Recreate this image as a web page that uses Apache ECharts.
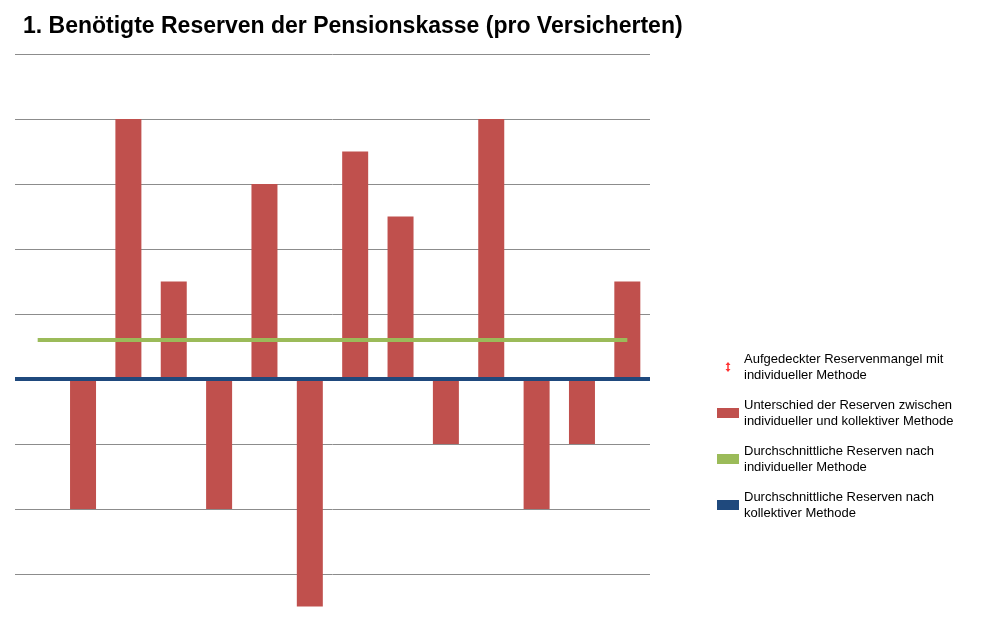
<!DOCTYPE html>
<html>
<head>
<meta charset="utf-8">
<script src="https://cdn.jsdelivr.net/npm/echarts@6/dist/echarts.min.js"></script>
<style>html,body{margin:0;padding:0;background:#fff}#main{width:999px;height:639px}</style>
</head>
<body>
<div id="main"></div>
<script>
// Daten
const categories = ['1','2','3','4','5','6','7','8','9','10','11','12','13','14']
const differenz = [null,-2,4,1.5,-2,3,-3.5,3.5,2.5,-1,4,-2,-1,1.5]
const individuell = [0.6,0.6,0.6,0.6,0.6,0.6,0.6,0.6,0.6,0.6,0.6,0.6,0.6,0.6]
const kollektiv = 0

const names = [
	'Aufgedeckter Reservenmangel mit\nindividueller Methode',
	'Unterschied der Reserven zwischen\nindividueller und kollektiver Methode',
	'Durchschnittliche Reserven nach\nindividueller Methode',
	'Durchschnittliche Reserven nach\nkollektiver Methode'
]

const arrowIcon = 'path://M5,0 L10,6 L6.5,6 L6.5,14 L10,14 L5,20 L0,14 L3.5,14 L3.5,6 L0,6 Z'

const chart = echarts.init(document.getElementById('main'))
chart.setOption({
	animation: false,
	title: {
		text: '1. Benötigte Reserven der Pensionskasse (pro Versicherten)',
		left: 18, top: 10,
		textStyle: { fontFamily: 'Liberation Sans', fontSize: 23, fontWeight: 'bold', color: '#000' }
	},
	grid: { left: 15, right: 349, top: 54, bottom: -4.5 },
	legend: {
		orient: 'vertical', left: 712, top: 346, itemGap: 14,
		itemWidth: 22, itemHeight: 10,
		textStyle: { fontFamily: 'Liberation Sans', fontSize: 13, color: '#000', lineHeight: 16 },
		data: [
			{ name: names[0], icon: arrowIcon, itemStyle: { color: '#ff0000' } },
			{ name: names[1], icon: 'rect' },
			{ name: names[2], icon: 'rect' },
			{ name: names[3], icon: 'rect' }
		]
	},
	xAxis: {
		type: 'category', data: categories,
		axisLine: { show: false }, axisTick: { show: false }, axisLabel: { show: false }
	},
	yAxis: {
		type: 'value', min: -4, max: 5, interval: 1,
		axisLabel: { show: false },
		splitLine: { lineStyle: { color: '#8c8c8c', width: 1 } }
	},
	series: [
		{ name: names[0], type: 'scatter', data: [], itemStyle: { color: '#ff0000' } },
		{
			name: names[1], type: 'bar', data: differenz, barWidth: 26,
			itemStyle: { color: '#c0504d' }
		},
		{
			name: names[2], type: 'line', data: individuell, symbol: 'none',
			lineStyle: { color: '#9bbb59', width: 4 }, itemStyle: { color: '#9bbb59' }
		},
		{
			name: names[3], type: 'line', data: [], itemStyle: { color: '#1f497d' },
			lineStyle: { color: '#1f497d', width: 4 },
			markLine: {
				silent: true, symbol: 'none', label: { show: false },
				lineStyle: { color: '#1f497d', width: 4, type: 'solid' },
				data: [{ yAxis: kollektiv }]
			}
		}
	]
})
</script>
</body>
</html>
